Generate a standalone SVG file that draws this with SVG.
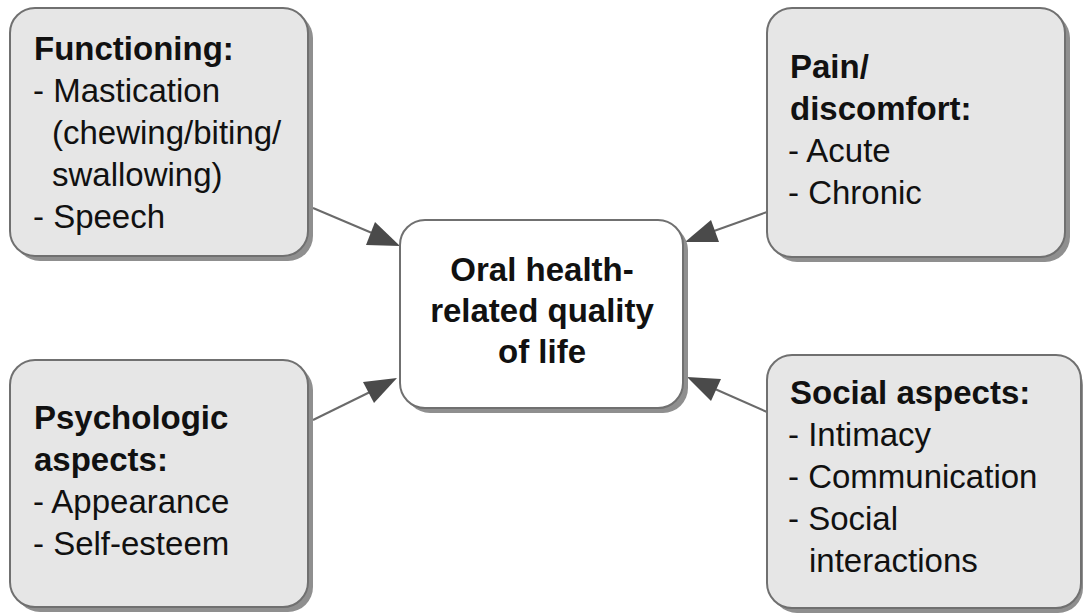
<svg xmlns="http://www.w3.org/2000/svg" width="1086" height="613" viewBox="0 0 1086 613">
<defs>
<style>
.box{fill:#e6e6e6;stroke:#707070;stroke-width:2}
.cbox{fill:#ffffff;stroke:#707070;stroke-width:2}
.shadow{fill:#8f8f8f}
.t{font-family:"Liberation Sans",Arial,sans-serif;font-size:33px;fill:#111}
.b{font-weight:bold}
.conn{stroke:#6a6a6a;stroke-width:2;fill:none}
.head{fill:#4a4a4a}
</style>
</defs>
<rect width="1086" height="613" fill="#ffffff"/>
<g id="connectors">
<line class="conn" x1="313" y1="208" x2="372" y2="233"/>
<polygon class="head" points="400,246 375,222 366,245"/>
<line class="conn" x1="767" y1="212" x2="714" y2="231"/>
<polygon class="head" points="685,242 711,220 719,242"/>
<line class="conn" x1="313" y1="420" x2="370" y2="392"/>
<polygon class="head" points="397,378 363,382 374,403"/>
<line class="conn" x1="767" y1="412" x2="715" y2="389"/>
<polygon class="head" points="687,377 721,379 711,401"/>
</g>
<g id="functioning">
<rect class="shadow" x="15" y="13" width="298" height="248" rx="25"/>
<rect class="box" x="10" y="8" width="298" height="248" rx="25"/>
<text class="t b" x="34" y="60">Functioning:</text>
<text class="t" x="33" y="102">- Mastication</text>
<text class="t" x="52" y="144">(chewing/biting/</text>
<text class="t" x="52" y="186">swallowing)</text>
<text class="t" x="33" y="228">- Speech</text>
</g>
<g id="pain">
<rect class="shadow" x="772" y="13" width="298" height="249" rx="25"/>
<rect class="box" x="767" y="8" width="298" height="249" rx="25"/>
<text class="t b" x="790" y="78">Pain/</text>
<text class="t b" x="790" y="120">discomfort:</text>
<text class="t" x="788" y="162">- Acute</text>
<text class="t" x="788" y="204">- Chronic</text>
</g>
<g id="psychologic">
<rect class="shadow" x="15" y="365" width="298" height="247" rx="25"/>
<rect class="box" x="10" y="360" width="298" height="247" rx="25"/>
<text class="t b" x="34" y="429">Psychologic</text>
<text class="t b" x="34" y="471">aspects:</text>
<text class="t" x="33" y="513">- Appearance</text>
<text class="t" x="33" y="555">- Self-esteem</text>
</g>
<g id="social">
<rect class="shadow" x="772" y="360" width="311" height="253" rx="25"/>
<rect class="box" x="767" y="355" width="314" height="253" rx="25"/>
<text class="t b" x="790" y="404">Social aspects:</text>
<text class="t" x="788" y="446">- Intimacy</text>
<text class="t" x="788" y="488">- Communication</text>
<text class="t" x="788" y="530">- Social</text>
<text class="t" x="809" y="572">interactions</text>
</g>
<g id="center">
<rect class="shadow" x="405" y="225" width="283" height="188" rx="25"/>
<rect class="cbox" x="400" y="220" width="283" height="188" rx="25"/>
<text class="t b" x="542" y="281" text-anchor="middle">Oral health-</text>
<text class="t b" x="542" y="322" text-anchor="middle">related quality</text>
<text class="t b" x="542" y="363" text-anchor="middle">of life</text>
</g>
</svg>
